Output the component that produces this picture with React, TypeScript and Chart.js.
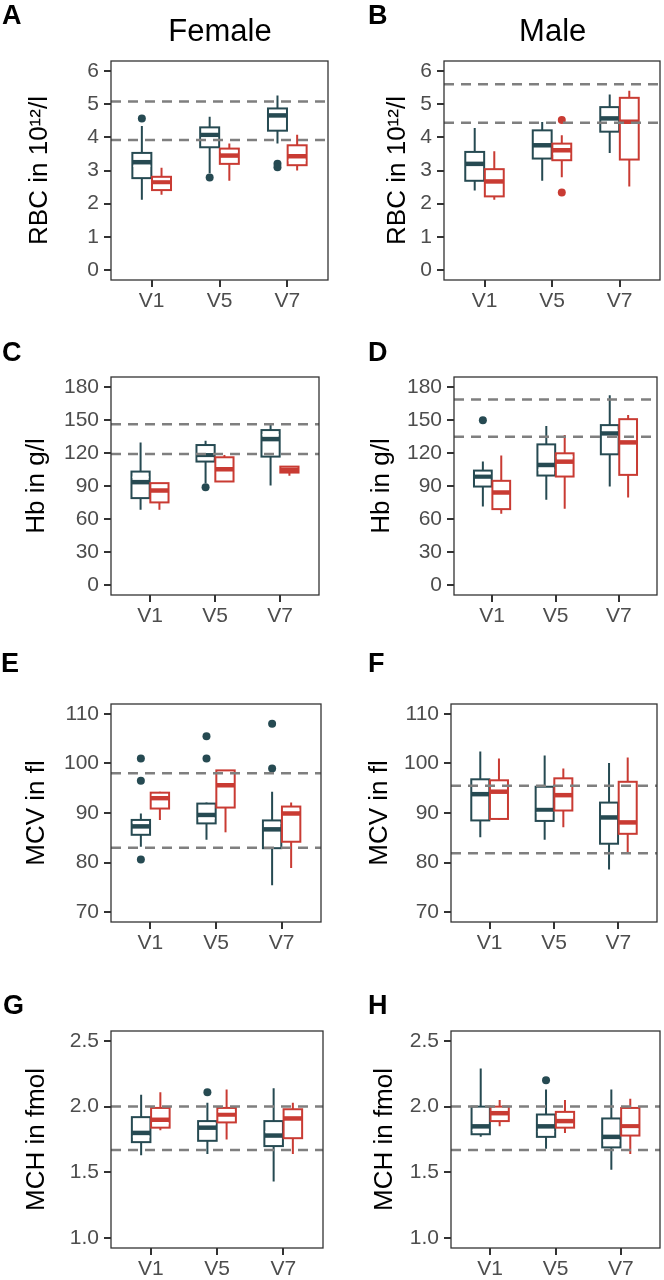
import React, { useEffect, useRef } from "react";
import { Chart, registerables } from "chart.js";

Chart.register(...registerables);

const FONT = "'Liberation Sans', Arial, Helvetica, sans-serif";
const TEAL = "#264a52";
const RED = "#c93b33";
const REF_COLOR = "#7f7f7f";
const FRAME = "#333333";
const TICK_TEXT = "#4d4d4d";

const visits = ["V1", "V5", "V7"];

// each row (one per visit): [whiskerLow, q1, median, q3, whiskerHigh, whiteLine]
const rbcFemaleG1 = [
  [2.12, 2.77, 3.25, 3.53, 4.34, 3.13],
  [2.92, 3.70, 4.07, 4.30, 4.62, 3.98],
  [3.81, 4.20, 4.66, 4.87, 5.26, 4.76],
];
const rbcFemaleG2 = [
  [2.27, 2.41, 2.64, 2.81, 3.08, 2.56],
  [2.69, 3.20, 3.45, 3.66, 3.81, 3.58],
  [3.00, 3.16, 3.43, 3.76, 4.08, 3.30],
];
const rbcFemaleG1Out = [[4.57], [2.79], [3.20, 3.10]];
const rbcFemaleG2Out = [[], [], []];
const rbcFemaleRef = [5.08, 3.92];

const rbcMaleG1 = [
  [2.40, 2.69, 3.20, 3.56, 4.28, null],
  [2.69, 3.36, 3.76, 4.21, 4.46, null],
  [3.53, 4.17, 4.57, 4.91, 5.29, null],
];
const rbcMaleG2 = [
  [2.12, 2.22, 2.67, 3.04, 3.58, null],
  [2.80, 3.31, 3.61, 3.81, 4.06, 3.50],
  [2.52, 3.33, 4.47, 5.19, 5.40, null],
];
const rbcMaleG1Out = [[], [], []];
const rbcMaleG2Out = [[], [4.52, 2.34], []];
const rbcMaleRef = [5.60, 4.44];

const hbFemaleG1 = [
  [68.4, 79.0, 93.5, 103.1, 129.6, 98.0],
  [92.6, 112.2, 117.9, 127.2, 131.1, 115.5],
  [90.4, 116.7, 132.6, 140.8, 146.2, 136.5],
];
const hbFemaleG2 = [
  [68.4, 75.1, 85.9, 92.6, 92.6, null],
  [94.1, 94.1, 105.2, 116.1, 118.2, null],
  [99.2, 102.2, 104.6, 107.6, 108.2, null],
];
const hbFemaleG1Out = [[], [88.9], []];
const hbFemaleG2Out = [[], [], []];
const hbFemaleRef = [146, 119];

const hbMaleG1 = [
  [71.4, 89.5, 98.6, 104.0, 112.2, 101.2],
  [77.5, 99.5, 109.1, 127.8, 144.4, 104.6],
  [89.5, 118.8, 137.8, 145.3, 172.4, 140.5],
];
const hbMaleG2 = [
  [64.8, 69.0, 84.1, 94.7, 117.6, null],
  [69.3, 98.6, 112.1, 119.7, 136.3, 116.5],
  [79.6, 100.1, 129.6, 150.7, 154.4, null],
];
const hbMaleG1Out = [[149.8], [], []];
const hbMaleG2Out = [[], [], []];
const hbMaleRef = [168.5, 134.8];

const mcvFemaleG1 = [
  [83.2, 85.6, 87.3, 88.6, 89.9, 88.1],
  [84.6, 87.9, 89.6, 91.9, 92.1, 88.9],
  [75.4, 82.9, 86.7, 88.5, 94.3, 87.9],
];
const mcvFemaleG2 = [
  [88.6, 90.9, 93.0, 94.1, 94.3, 93.6],
  [86.1, 91.1, 95.6, 98.6, 98.6, null],
  [78.9, 84.2, 89.9, 91.3, 92.1, 90.6],
];
const mcvFemaleG1Out = [[101.0, 96.5, 80.6], [105.5, 101.0], [108.0, 99.0]];
const mcvFemaleG2Out = [[], [], []];
const mcvFemaleRef = [98.0, 83.0];

const mcvMaleG1 = [
  [85.1, 88.5, 93.8, 96.8, 102.4, null],
  [84.6, 88.4, 90.6, 95.3, 101.6, 90.1],
  [78.6, 83.8, 89.1, 92.1, 100.1, null],
];
const mcvMaleG2 = [
  [88.6, 88.8, 94.3, 96.6, 101.0, null],
  [87.1, 90.5, 93.6, 97.0, 99.0, null],
  [82.1, 85.8, 88.1, 96.3, 101.2, null],
];
const mcvMaleG1Out = [[], [], []];
const mcvMaleG2Out = [[], [], []];
const mcvMaleRef = [95.5, 81.9];

const mchFemaleG1 = [
  [1.63, 1.73, 1.80, 1.92, 2.09, 1.77],
  [1.64, 1.74, 1.84, 1.89, 2.03, 1.87],
  [1.43, 1.70, 1.78, 1.89, 2.14, 1.81],
];
const mchFemaleG2 = [
  [1.82, 1.84, 1.90, 1.99, 2.11, 1.87],
  [1.75, 1.88, 1.94, 1.99, 2.13, 1.96],
  [1.64, 1.76, 1.91, 1.98, 2.03, null],
];
const mchFemaleG1Out = [[], [2.11], []];
const mchFemaleG2Out = [[], [], []];
const mchFemaleRef = [2.0, 1.67];

const mchMaleG1 = [
  [1.77, 1.79, 1.85, 2.00, 2.29, 1.82],
  [1.68, 1.77, 1.85, 1.94, 2.13, 1.81],
  [1.52, 1.69, 1.77, 1.91, 2.13, 1.74],
];
const mchMaleG2 = [
  [1.85, 1.89, 1.95, 2.00, 2.05, null],
  [1.80, 1.84, 1.89, 1.96, 2.05, 1.93],
  [1.64, 1.78, 1.85, 1.99, 2.06, 1.83],
];
const mchMaleG1Out = [[], [2.20], []];
const mchMaleG2Out = [[], [], []];
const mchMaleRef = [2.0, 1.67];

const rbcTicks = [0, 1, 2, 3, 4, 5, 6];
const hbTicks = [0, 30, 60, 90, 120, 150, 180];
const mcvTicks = [70, 80, 90, 100, 110];
const mchTicks = [1.0, 1.5, 2.0, 2.5];

// layout (page pixels): plot frame [left, right, top, bottom], y-title centre x
const CW = 332;
const CH = 320;
const OFF = 0.145;
const HALF = 0.14;

type Row = (number | null)[];
type PanelSpec = {
  id: string;
  yTitle: string;
  g1: Row[];
  g2: Row[];
  o1: number[][];
  o2: number[][];
  refs: number[];
  ticks: number[];
  dec: number;
  col: number;
  row: number;
  area: number[];
  titleX: number;
};

const panels: PanelSpec[] = [
  { id: "A", yTitle: "RBC in 10¹²/l", g1: rbcFemaleG1, g2: rbcFemaleG2, o1: rbcFemaleG1Out, o2: rbcFemaleG2Out, refs: rbcFemaleRef, ticks: rbcTicks, dec: 0, col: 0, row: 0, area: [111, 328, 61, 280], titleX: 39 },
  { id: "B", yTitle: "RBC in 10¹²/l", g1: rbcMaleG1, g2: rbcMaleG2, o1: rbcMaleG1Out, o2: rbcMaleG2Out, refs: rbcMaleRef, ticks: rbcTicks, dec: 0, col: 1, row: 0, area: [444, 661, 61, 280], titleX: 397 },
  { id: "C", yTitle: "Hb in g/l", g1: hbFemaleG1, g2: hbFemaleG2, o1: hbFemaleG1Out, o2: hbFemaleG2Out, refs: hbFemaleRef, ticks: hbTicks, dec: 0, col: 0, row: 1, area: [111, 319, 377, 595], titleX: 35.5 },
  { id: "D", yTitle: "Hb in g/l", g1: hbMaleG1, g2: hbMaleG2, o1: hbMaleG1Out, o2: hbMaleG2Out, refs: hbMaleRef, ticks: hbTicks, dec: 0, col: 1, row: 1, area: [454, 657, 377, 595], titleX: 381 },
  { id: "E", yTitle: "MCV in fl", g1: mcvFemaleG1, g2: mcvFemaleG2, o1: mcvFemaleG1Out, o2: mcvFemaleG2Out, refs: mcvFemaleRef, ticks: mcvTicks, dec: 0, col: 0, row: 2, area: [111, 321, 704, 922], titleX: 35.5 },
  { id: "F", yTitle: "MCV in fl", g1: mcvMaleG1, g2: mcvMaleG2, o1: mcvMaleG1Out, o2: mcvMaleG2Out, refs: mcvMaleRef, ticks: mcvTicks, dec: 0, col: 1, row: 2, area: [451, 657, 704, 922], titleX: 379 },
  { id: "G", yTitle: "MCH in fmol", g1: mchFemaleG1, g2: mchFemaleG2, o1: mchFemaleG1Out, o2: mchFemaleG2Out, refs: mchFemaleRef, ticks: mchTicks, dec: 1, col: 0, row: 3, area: [111, 323, 1031, 1248], titleX: 35.5 },
  { id: "H", yTitle: "MCH in fmol", g1: mchMaleG1, g2: mchMaleG2, o1: mchMaleG1Out, o2: mchMaleG2Out, refs: mchMaleRef, ticks: mchTicks, dec: 1, col: 1, row: 3, area: [451, 661, 1031, 1248], titleX: 383.7 },
];

const letterPos: { [k: string]: number[] } = {
  A: [2, 2.2], B: [368, 2.2], C: [2, 338.9], D: [368, 338.9],
  E: [1, 650.2], F: [368, 650.2], G: [3, 991.7], H: [368, 991.7],
};

function outPoints(out: number[][], off: number) {
  const pts: { x: number; y: number }[] = [];
  out.forEach((vals, i) => vals.forEach((v) => pts.push({ x: i + 1 + off, y: v })));
  return pts;
}

function PanelChart({ p }: { p: PanelSpec }) {
  const ref = useRef<HTMLCanvasElement | null>(null);
  const cx = p.col * CW;
  const cy = p.row * CH;

  useEffect(() => {
    const canvas = ref.current;
    if (!canvas) return;
    const [L, R, T, B] = p.area;
    const l = L - cx;
    const r = R - cx;
    const t = T - cy;
    const b = B - cy;
    const lo = p.ticks[0];
    const hi = p.ticks[p.ticks.length - 1];
    const span = hi - lo;

    const plugin = {
      id: "boxes" + p.id,
      beforeDatasetsDraw(chart: any) {
        const { ctx, chartArea: a } = chart;
        const xs = chart.scales.x;
        const ys = chart.scales.y;
        const y = (v: number) => ys.getPixelForValue(v);
        ctx.save();
        ctx.beginPath();
        ctx.rect(a.left, a.top, a.right - a.left, a.bottom - a.top);
        ctx.clip();
        const groups: [Row[], string, number][] = [
          [p.g1, TEAL, -OFF],
          [p.g2, RED, OFF],
        ];
        for (const [rows, color, off] of groups) {
          rows.forEach((row, i) => {
            const [wl, q1, md, q3, wh, mn] = row as number[];
            const c = i + 1 + off;
            const xc = xs.getPixelForValue(c);
            const x0 = xs.getPixelForValue(c - HALF);
            const x1 = xs.getPixelForValue(c + HALF);
            ctx.setLineDash([]);
            ctx.lineCap = "butt";
            ctx.strokeStyle = color;
            ctx.lineWidth = 2;
            ctx.beginPath();
            ctx.moveTo(xc, y(q3));
            ctx.lineTo(xc, y(wh));
            ctx.moveTo(xc, y(q1));
            ctx.lineTo(xc, y(wl));
            ctx.stroke();
            ctx.fillStyle = "#ffffff";
            ctx.fillRect(x0, y(q3), x1 - x0, y(q1) - y(q3));
            ctx.strokeRect(x0, y(q3), x1 - x0, y(q1) - y(q3));
            ctx.lineWidth = 4.5;
            ctx.beginPath();
            ctx.moveTo(x0, y(md));
            ctx.lineTo(x1, y(md));
            ctx.stroke();
            if (mn !== null && mn !== undefined) {
              ctx.strokeStyle = "#ffffff";
              ctx.lineWidth = 1.5;
              ctx.beginPath();
              ctx.moveTo(x0 + 1, y(mn));
              ctx.lineTo(x1 - 1, y(mn));
              ctx.stroke();
            }
          });
        }
        ctx.restore();
      },
      afterDatasetsDraw(chart: any) {
        const { ctx, chartArea: a } = chart;
        const ys = chart.scales.y;
        ctx.save();
        ctx.strokeStyle = REF_COLOR;
        ctx.lineWidth = 2.5;
        ctx.setLineDash([10, 7]);
        p.refs.forEach((v) => {
          const yy = ys.getPixelForValue(v);
          ctx.beginPath();
          ctx.moveTo(a.left, yy);
          ctx.lineTo(a.right, yy);
          ctx.stroke();
        });
        ctx.restore();
      },
      afterDraw(chart: any) {
        const { ctx, chartArea: a } = chart;
        ctx.save();
        ctx.setLineDash([]);
        ctx.strokeStyle = FRAME;
        ctx.lineWidth = 1.3;
        ctx.strokeRect(a.left, a.top, a.right - a.left, a.bottom - a.top);
        ctx.restore();
      },
    };

    const tickFont = { family: FONT, size: 21 };
    const chart = new Chart(canvas, {
      type: "scatter",
      data: {
        datasets: [
          { label: "Group 1", data: outPoints(p.o1, -OFF), backgroundColor: TEAL, borderColor: TEAL, pointRadius: 4, pointBorderWidth: 0 },
          { label: "Group 2", data: outPoints(p.o2, OFF), backgroundColor: RED, borderColor: RED, pointRadius: 4, pointBorderWidth: 0 },
        ],
      },
      options: {
        animation: false,
        responsive: false,
        events: [],
        layout: { padding: { left: 0, top: t, right: CW - r, bottom: 0 } },
        plugins: { legend: { display: false }, tooltip: { enabled: false }, title: { display: false } },
        scales: {
          x: {
            type: "linear",
            min: 0.4,
            max: 3.6,
            afterBuildTicks: (s: any) => {
              s.ticks = visits.map((_, i) => ({ value: i + 1 }));
            },
            afterFit: (s: any) => {
              s.height = CH - b;
            },
            ticks: {
              autoSkip: false,
              maxRotation: 0,
              color: TICK_TEXT,
              font: tickFont,
              padding: 2,
              callback: (_v: any, i: number) => visits[i],
            },
            grid: { drawOnChartArea: false, drawTicks: true, tickLength: 7, color: FRAME, lineWidth: 2 },
            border: { display: false },
          },
          y: {
            type: "linear",
            min: lo - 0.05 * span,
            max: hi + 0.05 * span,
            afterBuildTicks: (s: any) => {
              s.ticks = p.ticks.map((v) => ({ value: v }));
            },
            afterFit: (s: any) => {
              s.width = l;
            },
            ticks: {
              autoSkip: false,
              color: TICK_TEXT,
              font: tickFont,
              padding: 5,
              callback: (_v: any, i: number) => p.ticks[i].toFixed(p.dec),
            },
            grid: { drawOnChartArea: false, drawTicks: true, tickLength: 7, color: FRAME, lineWidth: 2 },
            border: { display: false },
            title: {
              display: true,
              text: p.yTitle,
              color: "#000000",
              font: { family: FONT, size: 26, lineHeight: 1 },
              padding: { top: p.titleX - cx - 13 + 1.2, bottom: 0 },
            },
          },
        },
      },
      plugins: [plugin],
    } as any);
    return () => chart.destroy();
  }, [p]);

  return (
    <canvas
      ref={ref}
      width={CW}
      height={CH}
      style={{ position: "absolute", left: cx, top: cy, width: CW, height: CH }}
    />
  );
}

export default function App() {
  return (
    <div style={{ position: "absolute", left: 0, top: 0, width: 664, height: 1280, background: "#ffffff", overflow: "hidden", fontFamily: FONT }}>
      {panels.map((p) => (
        <PanelChart key={p.id} p={p} />
      ))}
      {panels.map((p) => (
        <div
          key={"l" + p.id}
          style={{ position: "absolute", left: letterPos[p.id][0], top: letterPos[p.id][1], fontSize: 27, lineHeight: "27px", fontWeight: "bold", color: "#000" }}
        >
          {p.id}
        </div>
      ))}
      <div style={{ position: "absolute", left: 120, top: 14.5, width: 200, textAlign: "center", fontSize: 31, lineHeight: "31px", color: "#000" }}>Female</div>
      <div style={{ position: "absolute", left: 452.7, top: 14.5, width: 200, textAlign: "center", fontSize: 31, lineHeight: "31px", color: "#000" }}>Male</div>
    </div>
  );
}
